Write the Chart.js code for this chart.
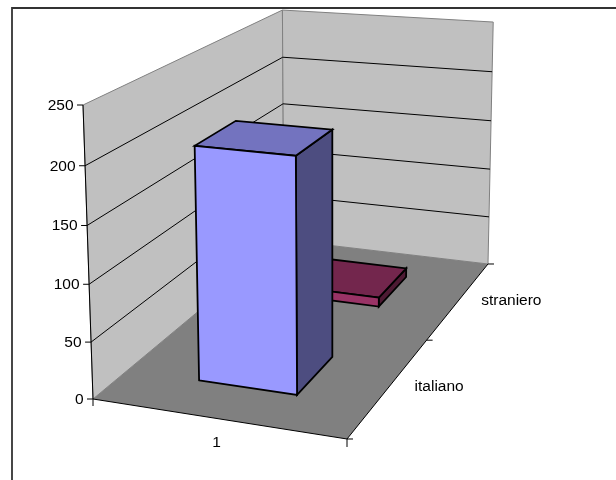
<!DOCTYPE html>
<html>
<head>
<meta charset="utf-8">
<style>html,body{margin:0;padding:0;background:#fff}canvas{display:block}</style>
<script src="https://cdn.jsdelivr.net/npm/chart.js@4"></script>
</head>
<body>
<canvas id="c" width="616" height="480"></canvas>
<script>
const categories = ["1"];
const seriesNames = ["italiano", "straniero"];
const italiano = [206];
const straniero = [9];
const valueMin = 0, valueMax = 250, valueStep = 50;

const frontColors = ["#9999FF", "#993366"];
const topColors = ["#7373BF", "#73264D"];
const sideColors = ["#4D4D80", "#4D1A33"];
const seriesLabelOffsets = [25, 22];

// Projective view: (across, depth, height), each 0..1, to canvas pixels
const view = {a:235.68, b:270.97, p:-13.32, c:93, d:16.82, e:-91.42, q:-298.2, f:399, g:-0.0528, h:0.2816, k:-0.04, skew:2.5};
const barAcross = [0.3, 0.7];
const barDepthHalf = 0.1;
const FONT = "15.5px 'Liberation Sans', Arial, sans-serif";

function project(u, d, w) {
  const v = view, n = v.g*u + v.h*d + v.k*w + 1;
  return [(v.a*u + v.b*d + v.p*w + v.c)/n, (v.d*u + v.e*d + v.q*w + v.f)/n + v.skew*w*d*(1-u)];
}
function poly(ctx, pts, fill, stroke, lw) {
  ctx.beginPath();
  pts.forEach((p, i) => i ? ctx.lineTo(p[0], p[1]) : ctx.moveTo(p[0], p[1]));
  ctx.closePath();
  if (fill) { ctx.fillStyle = fill; ctx.fill(); }
  if (stroke) { ctx.strokeStyle = stroke; ctx.lineWidth = lw; ctx.lineJoin = "miter"; ctx.stroke(); }
}
function seg(ctx, a, b, color, lw) {
  ctx.beginPath(); ctx.moveTo(a[0], a[1]); ctx.lineTo(b[0], b[1]);
  ctx.strokeStyle = color; ctx.lineWidth = lw; ctx.stroke();
}

const scene3d = {
  id: "scene3d",
  beforeDatasetsDraw(chart) {
    const ctx = chart.ctx, y = chart.scales.y;
    const hOf = val => (y.bottom - y.getPixelForValue(val)) / (y.bottom - y.top);
    ctx.save();

    // outer frame, running off the picture on the right and at the bottom
    ctx.beginPath(); ctx.moveTo(12, 480); ctx.lineTo(12, 8); ctx.lineTo(616, 8);
    ctx.strokeStyle = "#333333"; ctx.lineWidth = 1.8; ctx.stroke();

    // walls and floor
    poly(ctx, [project(0,0,0), project(0,1,0), project(0,1,1), project(0,0,1)], "#C0C0C0", "#808080", 1);
    poly(ctx, [project(0,1,0), project(1,1,0), project(1,1,1), project(0,1,1)], "#C0C0C0", "#808080", 1);
    poly(ctx, [project(0,0,0), project(1,0,0), project(1,1,0), project(0,1,0)], "#808080", null);

    // gridlines
    y.ticks.forEach(t => {
      if (t.value === valueMin || t.value === valueMax) return;
      const w = hOf(t.value);
      seg(ctx, project(0,0,w), project(0,1,w), "#000", 1);
      seg(ctx, project(0,1,w), project(1,1,w), "#000", 1);
    });

    // axis lines
    seg(ctx, project(0,0,0), project(0,0,1), "#000", 1);
    seg(ctx, project(0,0,0), project(1,0,0), "#000", 1);
    seg(ctx, project(1,0,0), project(1,1,0), "#000", 1);

    // bars, back to front
    const n = chart.data.datasets.length;
    for (let i = n - 1; i >= 0; i--) {
      const w = hOf(chart.data.datasets[i].data[0]);
      const mid = (i + 0.5) / n, d0 = mid - barDepthHalf, d1 = mid + barDepthHalf;
      const u0 = barAcross[0], u1 = barAcross[1];
      poly(ctx, [project(u1,d0,0), project(u1,d1,0), project(u1,d1,w), project(u1,d0,w)], sideColors[i], "#000", 1.8);
      poly(ctx, [project(u0,d0,w), project(u1,d0,w), project(u1,d1,w), project(u0,d1,w)], topColors[i], "#000", 1.8);
      poly(ctx, [project(u0,d0,0), project(u1,d0,0), project(u1,d0,w), project(u0,d0,w)], frontColors[i], "#000", 1.8);
    }

    // value axis ticks and labels
    ctx.font = FONT; ctx.fillStyle = "#000"; ctx.textBaseline = "middle"; ctx.textAlign = "right";
    y.ticks.forEach(t => {
      const p = project(0, 0, hOf(t.value));
      seg(ctx, [p[0] - 6, p[1]], p, "#000", 1);
      ctx.fillText(String(t.value), p[0] - 9.5, p[1] + 0.5);
    });

    // category axis
    const f0 = project(0,0,0), f1 = project(1,0,0);
    seg(ctx, f0, [f0[0], f0[1] + 7], "#000", 1);
    seg(ctx, f1, [f1[0], f1[1] + 8], "#000", 1);
    ctx.textAlign = "center";
    const cp = project(0.5,0,0);
    ctx.fillText(chart.data.labels[0], cp[0], cp[1] + 24);

    // depth axis
    [0, 0.5, 1].forEach(d => {
      const p = project(1,d,0);
      seg(ctx, p, [p[0] + 6, p[1]], "#000", 1);
    });
    ctx.textAlign = "left";
    chart.data.datasets.forEach((ds, i) => {
      const p = project(1, (i + 0.5) / n, 0);
      ctx.fillText(ds.label, p[0] + seriesLabelOffsets[i], p[1] + 0.5);
    });
    ctx.restore();
    return false;
  }
};

new Chart(document.getElementById("c"), {
  type: "bar",
  data: {
    labels: categories,
    datasets: [
      { label: seriesNames[0], data: italiano, backgroundColor: frontColors[0] },
      { label: seriesNames[1], data: straniero, backgroundColor: frontColors[1] }
    ]
  },
  options: {
    responsive: false,
    animation: false,
    layout: { padding: { top: 105, bottom: 81, left: 93, right: 123 } },
    plugins: { legend: { display: false }, tooltip: { enabled: false }, title: { display: false } },
    scales: {
      x: { display: false },
      y: { display: false, min: valueMin, max: valueMax, ticks: { stepSize: valueStep } }
    }
  },
  plugins: [scene3d]
});
</script>
</body>
</html>
